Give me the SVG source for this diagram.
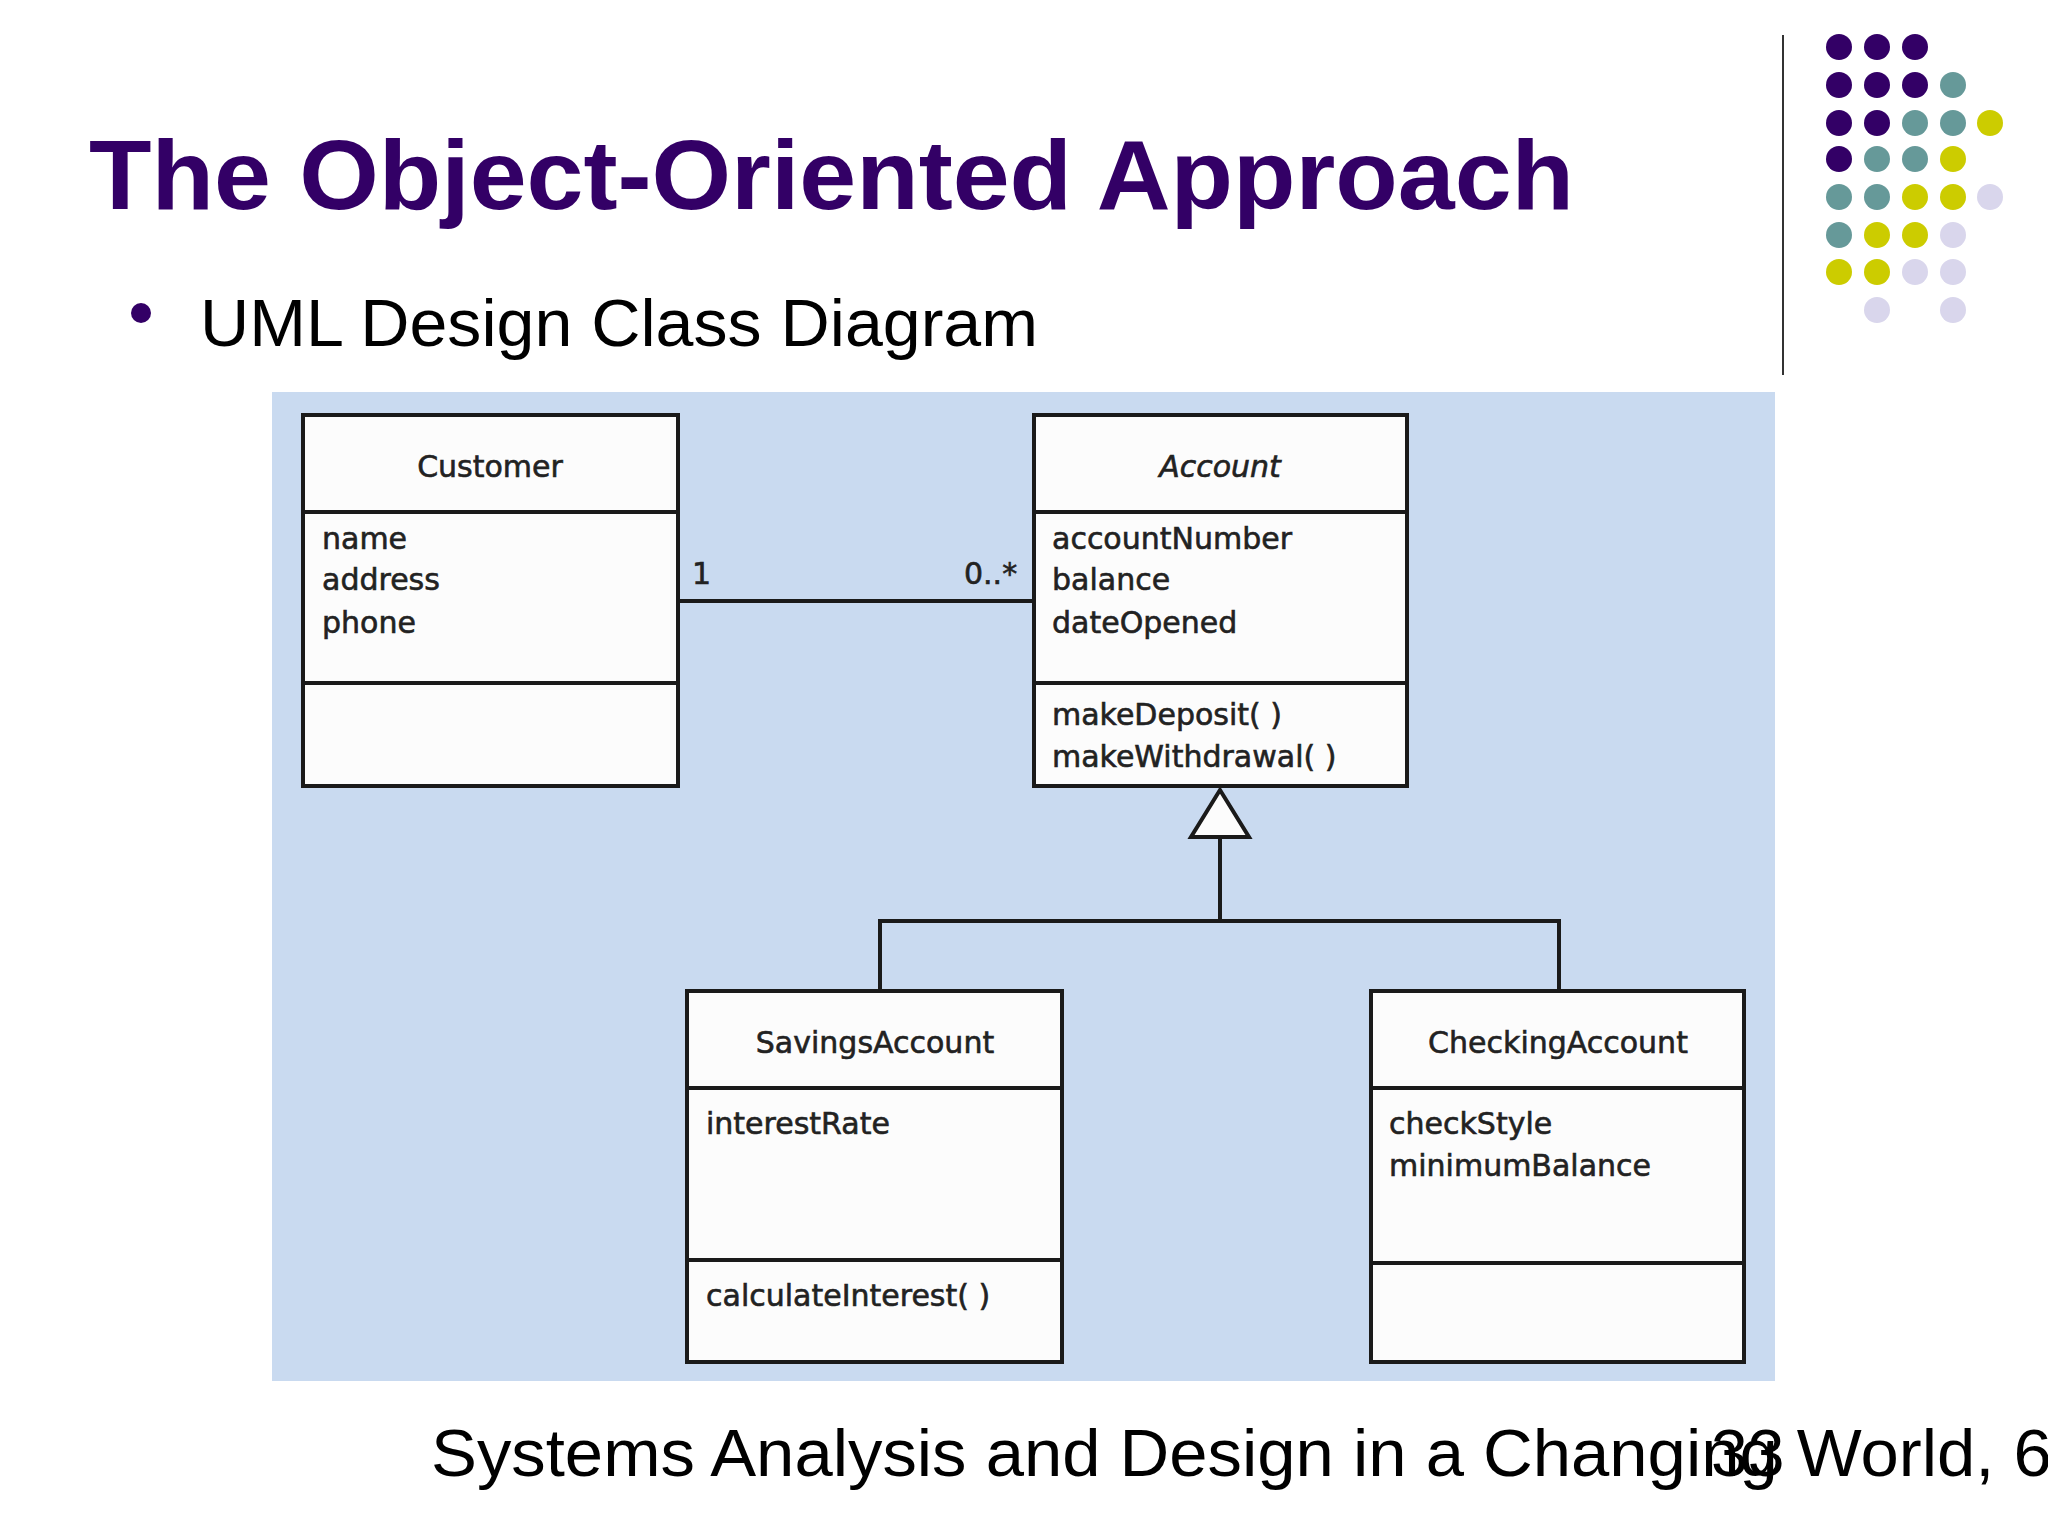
<svg xmlns="http://www.w3.org/2000/svg" width="2048" height="1536" viewBox="0 0 2048 1536">
<style>
.box{fill:#fcfcfc;stroke:#1a1a1a;stroke-width:4}
.ln{stroke:#1a1a1a;stroke-width:4;fill:none}
.t{font-family:"DejaVu Sans",sans-serif;font-size:30px;fill:#222;stroke:#222;stroke-width:0.6}
.p{fill:#330066}.q{fill:#669999}.y{fill:#cccc00}.l{fill:#d9d6ec}
</style>
<rect width="2048" height="1536" fill="#ffffff"/>
<text x="89" y="209" font-family="Liberation Sans, Arial, sans-serif" font-weight="bold" font-size="98" fill="#330066" textLength="1485" lengthAdjust="spacingAndGlyphs">The Object-Oriented Approach</text>
<circle cx="141" cy="313" r="10" fill="#330066"/>
<text x="200" y="346" font-family="Liberation Sans, Arial, sans-serif" font-size="66" fill="#000" textLength="838" lengthAdjust="spacingAndGlyphs">UML Design Class Diagram</text>
<line x1="1783" y1="35" x2="1783" y2="375" stroke="#333" stroke-width="2"/>
<g id="dots">
<circle cx="1839" cy="47" r="13" class="p"/><circle cx="1877" cy="47" r="13" class="p"/><circle cx="1915" cy="47" r="13" class="p"/>
<circle cx="1839" cy="85" r="13" class="p"/><circle cx="1877" cy="85" r="13" class="p"/><circle cx="1915" cy="85" r="13" class="p"/><circle cx="1953" cy="85" r="13" class="q"/>
<circle cx="1839" cy="123" r="13" class="p"/><circle cx="1877" cy="123" r="13" class="p"/><circle cx="1915" cy="123" r="13" class="q"/><circle cx="1953" cy="123" r="13" class="q"/><circle cx="1990" cy="123" r="13" class="y"/>
<circle cx="1839" cy="159" r="13" class="p"/><circle cx="1877" cy="159" r="13" class="q"/><circle cx="1915" cy="159" r="13" class="q"/><circle cx="1953" cy="159" r="13" class="y"/>
<circle cx="1839" cy="197" r="13" class="q"/><circle cx="1877" cy="197" r="13" class="q"/><circle cx="1915" cy="197" r="13" class="y"/><circle cx="1953" cy="197" r="13" class="y"/><circle cx="1990" cy="197" r="13" class="l"/>
<circle cx="1839" cy="235" r="13" class="q"/><circle cx="1877" cy="235" r="13" class="y"/><circle cx="1915" cy="235" r="13" class="y"/><circle cx="1953" cy="235" r="13" class="l"/>
<circle cx="1839" cy="272" r="13" class="y"/><circle cx="1877" cy="272" r="13" class="y"/><circle cx="1915" cy="272" r="13" class="l"/><circle cx="1953" cy="272" r="13" class="l"/>
<circle cx="1877" cy="310" r="13" class="l"/><circle cx="1953" cy="310" r="13" class="l"/>
</g>
<rect x="272" y="392" width="1503" height="989" fill="#c9daf0"/>
<g id="connectors">
<line class="ln" x1="678" y1="601" x2="1034" y2="601"/>
<polyline class="ln" points="1220,837 1220,921 880,921 880,991"/>
<polyline class="ln" points="1220,921 1559,921 1559,991"/>
<polygon points="1220,790 1191,837 1249,837" fill="#fcfcfc" stroke="#1a1a1a" stroke-width="4"/>
<text class="t" x="692" y="584">1</text>
<text class="t" x="964" y="584">0..*</text>
</g>
<g id="customer">
<rect class="box" x="303" y="415" width="375" height="371"/>
<line class="ln" x1="303" y1="512" x2="678" y2="512"/><line class="ln" x1="303" y1="683" x2="678" y2="683"/>
<text class="t" x="490" y="477" text-anchor="middle">Customer</text>
<text class="t" x="322" y="549">name</text><text class="t" x="322" y="590">address</text><text class="t" x="322" y="633">phone</text>
</g>
<g id="account">
<rect class="box" x="1034" y="415" width="373" height="371"/>
<line class="ln" x1="1034" y1="512" x2="1407" y2="512"/><line class="ln" x1="1034" y1="683" x2="1407" y2="683"/>
<text class="t" x="1220" y="477" text-anchor="middle" font-style="italic">Account</text>
<text class="t" x="1052" y="549">accountNumber</text><text class="t" x="1052" y="590">balance</text><text class="t" x="1052" y="633">dateOpened</text>
<text class="t" x="1052" y="725">makeDeposit( )</text><text class="t" x="1052" y="767">makeWithdrawal( )</text>
</g>
<g id="savings">
<rect class="box" x="687" y="991" width="375" height="371"/>
<line class="ln" x1="687" y1="1088" x2="1062" y2="1088"/><line class="ln" x1="687" y1="1260" x2="1062" y2="1260"/>
<text class="t" x="875" y="1053" text-anchor="middle">SavingsAccount</text>
<text class="t" x="706" y="1134">interestRate</text>
<text class="t" x="706" y="1306">calculateInterest( )</text>
</g>
<g id="checking">
<rect class="box" x="1371" y="991" width="373" height="371"/>
<line class="ln" x1="1371" y1="1088" x2="1744" y2="1088"/><line class="ln" x1="1371" y1="1263" x2="1744" y2="1263"/>
<text class="t" x="1558" y="1053" text-anchor="middle">CheckingAccount</text>
<text class="t" x="1389" y="1134">checkStyle</text><text class="t" x="1389" y="1176">minimumBalance</text>
</g>
<text x="431" y="1476" font-family="Liberation Sans, Arial, sans-serif" font-size="66" fill="#000" textLength="1640" lengthAdjust="spacingAndGlyphs">Systems Analysis and Design in a Changing World, 6t</text>
<text x="1711" y="1476" font-family="Liberation Sans, Arial, sans-serif" font-size="66" fill="#000">33</text>
</svg>
